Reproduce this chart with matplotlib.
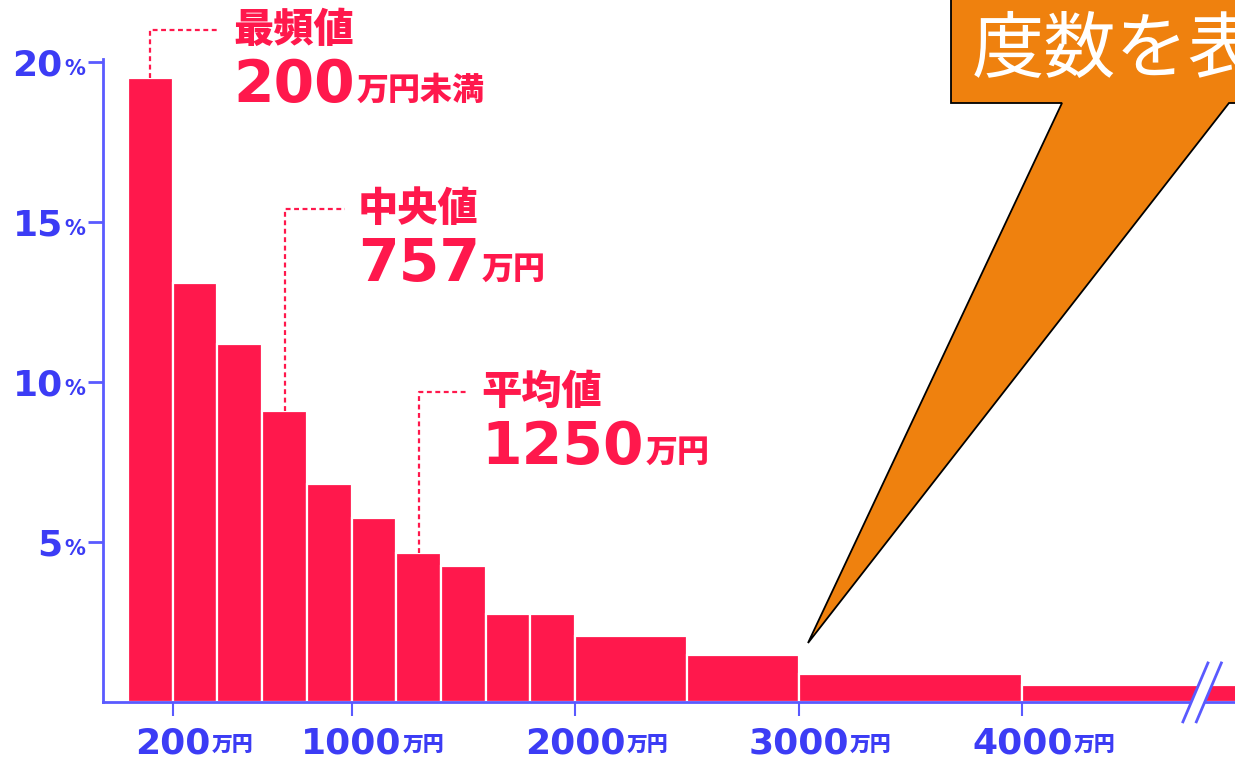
import numpy as np
import matplotlib
matplotlib.use("Agg")
import matplotlib.pyplot as plt
from matplotlib.patches import Polygon

# income bins (万円) and share of households (%)
bins = [0, 200, 400, 600, 800, 1000, 1200, 1400, 1600, 1800, 2000, 2500, 3000, 4000, 5000]
share = [19.5, 13.1, 11.2, 9.1, 6.8, 5.75, 4.65, 4.25, 2.75, 2.75, 2.05, 1.47, 0.86, 0.54]
xticks = [200, 1000, 2000, 3000, 4000]
yticks = [5, 10, 15, 20]

# (bar centre, bar height, line top, line end, label, value, unit)
notes = [
    (100, 19.5, 21.0, 411, "最頻値", "200", "万円未満"),
    (700, 9.1, 15.4, 970, "中央値", "757", "万円"),
    (1300, 4.65, 9.7, 1520, "平均値", "1250", "万円"),
]

PINK = "#FF184C"
BLUE = "#3C3CF5"
AXBLUE = "#5A5AFF"
ORANGE = "#EF810E"
FONT = ["DejaVu Sans", "Noto Sans CJK JP"]
JP = ["Noto Sans CJK JP", "DejaVu Sans"]

W, H = 1235, 761
fig = plt.figure(figsize=(W / 100, H / 100), dpi=100)
ax = fig.add_axes([103 / W, (H - 702) / H, 1 - 103 / W, 702 / H])

edges = np.array(bins)
ax.bar(edges[:-1], share, width=np.diff(edges), align="edge", color=PINK,
       edgecolor="white", linewidth=1.6, zorder=1)
ax.set_xlim(-112, 4951)
ax.set_ylim(0, 21.94)

for s in ["top", "right"]:
    ax.spines[s].set_visible(False)
for s in ["left", "bottom"]:
    ax.spines[s].set_color(AXBLUE)
    ax.spines[s].set_linewidth(2)
    ax.spines[s].set_zorder(3)
ax.spines["left"].set_bounds(0, 20.1)

ax.set_yticks(yticks, [str(v) for v in yticks])
ax.tick_params(axis="y", length=11, width=2, color=AXBLUE, pad=18,
               labelcolor=BLUE, labelsize=26)
for tk in ax.yaxis.get_major_ticks():
    t = tk.label1
    t.set_fontweight("bold")
    ax.annotate("%", xy=(1, 0), xycoords=t, xytext=(2, 4), textcoords="offset pixels",
                ha="left", va="bottom", color=BLUE, fontsize=15, fontweight="bold",
                family=FONT, annotation_clip=False)

ax.set_xticks(xticks, [str(v) for v in xticks])
ax.tick_params(axis="x", length=10, width=1.5, color=AXBLUE, pad=8,
               labelcolor=BLUE, labelsize=26)
for tk in ax.xaxis.get_major_ticks():
    t = tk.label1
    t.set_fontweight("bold")
    ax.annotate("万円", xy=(1, 0), xycoords=t, xytext=(1, 6), textcoords="offset pixels",
                ha="left", va="bottom", color=BLUE, fontsize=15, fontweight="heavy",
                family=JP, annotation_clip=False)

# dotted leader lines + labels
for xc, h, top, end, label, value, unit in notes:
    ax.plot([xc, xc, end], [h, top, top], color=PINK, lw=1.6, ls=(0, (2.2, 1.6)),
            clip_on=False, zorder=2)
    ax.annotate(label, xy=(end, top), xytext=(13, 0), textcoords="offset pixels",
                ha="left", va="center", color=PINK, fontsize=29, fontweight="heavy",
                family=JP, annotation_clip=False)
    v = ax.annotate(value, xy=(end, top), xytext=(13, -72), textcoords="offset pixels",
                    ha="left", va="baseline", color=PINK, fontsize=42, fontweight="bold",
                    family=FONT, annotation_clip=False)
    ax.annotate(unit, xy=(1, 0), xycoords=v, xytext=(2, 7), textcoords="offset pixels",
                ha="left", va="bottom", color=PINK, fontsize=23, fontweight="heavy",
                family=JP, annotation_clip=False)

# axis break mark
bx, half, gap = 4774, 56, 60
ax.fill([bx - half, bx + half, bx + gap + half, bx + gap - half],
        [-0.62, 1.22, 1.22, -0.62], color="white", lw=0, clip_on=False, zorder=4)
for dx in (0, gap):
    ax.plot([bx + dx - half, bx + dx + half], [-0.62, 1.22], color=AXBLUE, lw=2,
            clip_on=False, zorder=5)

# orange speech-bubble callout (figure pixels, top-left origin)
pts = [(951, -5), (951, 103), (1062, 103), (808, 643), (1229, 103), (1245, 103), (1245, -5)]
poly = Polygon([(x / W, 1 - y / H) for x, y in pts], closed=True, transform=fig.transFigure,
               facecolor=ORANGE, edgecolor="black", lw=1.3, zorder=10)
fig.add_artist(poly)
fig.text(972 / W, 1 - 52 / H, "度数を表", color="white", fontsize=52,
         family=JP, ha="left", va="center", zorder=11)

fig.savefig("out.png", dpi=100)
